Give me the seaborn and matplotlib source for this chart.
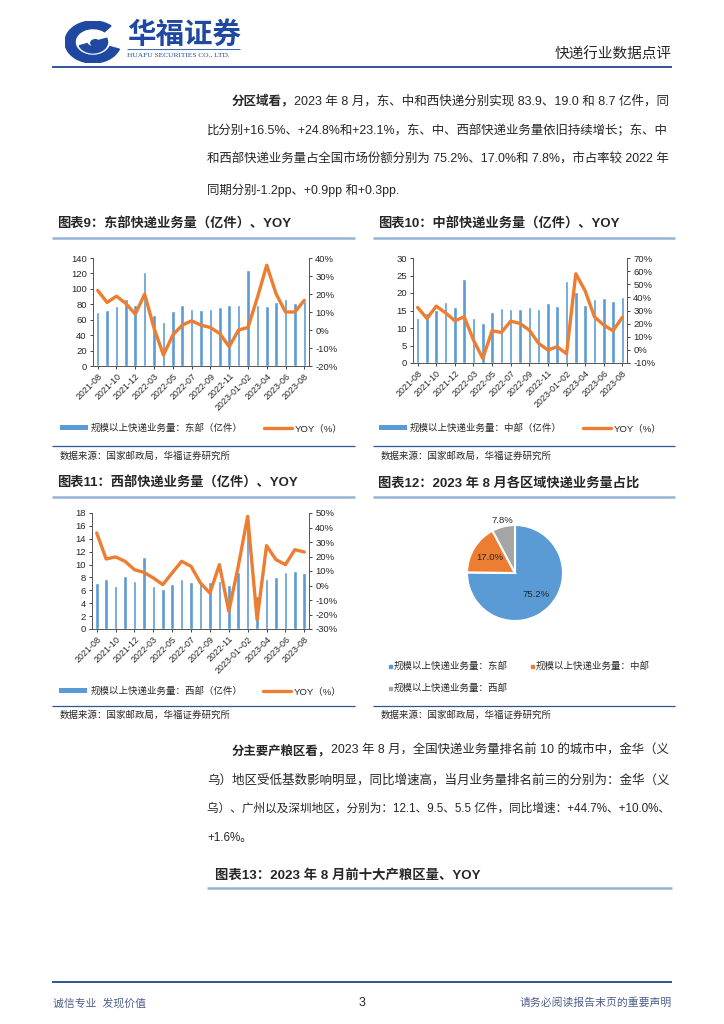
import matplotlib
matplotlib.use("Agg")
import matplotlib.pyplot as plt
import numpy as np
import seaborn as sns
from matplotlib.patches import Wedge, Circle, Rectangle, Patch
from matplotlib.lines import Line2D
from matplotlib.ticker import FuncFormatter

W, H = 724, 1024

MONTHS = ["2021-08", "2021-09", "2021-10", "2021-11", "2021-12", "2022-01~02",
          "2022-03", "2022-04", "2022-05", "2022-06", "2022-07", "2022-08",
          "2022-09", "2022-10", "2022-11", "2022-12", "2023-01~02", "2023-03",
          "2023-04", "2023-05", "2023-06", "2023-07", "2023-08"]

EAST_VOL = [70.2, 72.4, 78.0, 87.4, 78.8, 121.5, 65.9, 57.3, 71.0, 79.0, 73.7, 72.0,
            73.7, 76.0, 79.7, 78.8, 124.0, 79.7, 77.5, 83.0, 87.0, 81.4, 83.9]
EAST_YOY = [22.0, 15.3, 18.8, 14.7, 8.8, 19.9, 1.0, -13.9, -2.8, 2.7, 5.1, 2.7,
            1.4, -2.0, -9.3, 0.0, 1.4, 18.0, 36.0, 20.0, 10.0, 10.0, 16.5]

CENTRAL_VOL = [12.8, 14.2, 15.2, 17.4, 15.9, 23.9, 13.0, 11.4, 14.5, 15.7, 15.4, 15.3,
               15.9, 15.4, 17.1, 16.3, 23.4, 20.2, 16.5, 18.3, 18.7, 17.6, 19.0]
CENTRAL_YOY = [32.3, 23.9, 33.3, 28.2, 22.2, 25.2, 7.5, -6.5, 14.6, 13.3, 21.9, 20.1,
               15.0, 5.0, -0.1, 2.4, -3.0, 58.0, 45.0, 25.2, 18.9, 14.6, 24.8]

WEST_VOL = [7.2, 7.8, 6.6, 8.3, 7.5, 11.2, 6.6, 6.2, 7.0, 7.8, 7.3, 7.0,
            7.3, 7.5, 6.8, 8.8, 16.4, 5.1, 7.8, 8.1, 8.9, 9.0, 8.7]
WEST_YOY = [36.2, 18.3, 19.7, 16.7, 10.9, 9.1, 5.2, 0.6, 8.7, 16.7, 13.2, 1.7,
            -5.2, 14.4, -17.8, 13.2, 47.7, -23.6, 27.5, 17.8, 14.4, 24.7, 23.1]

SHARE_LABELS = ["规模以上快递业务量：东部", "规模以上快递业务量：中部", "规模以上快递业务量：西部"]
SHARE_VALUES = [75.2, 17.0, 7.8]

BLUE = "#5B9BD5"
ORANGE = "#ED7D31"
GRAY = "#A5A5A5"
NAVY = "#2E5597"
LOGO = "#1F49A0"
TITLE_LINE = "#95B3D7"

sns.set_theme(style="white")
plt.rcParams["font.family"] = ["Liberation Sans", "Noto Sans CJK SC", "DejaVu Sans"]
plt.rcParams["axes.unicode_minus"] = False

fig = plt.figure(figsize=(W / 100, H / 100), dpi=100)
renderer = fig.canvas.get_renderer()

# full page canvas in pixel coordinates
page = fig.add_axes([0, 0, 1, 1])
page.set_xlim(0, W)
page.set_ylim(H, 0)
page.axis("off")


def hline(y, x0, x1, color, lw):
    page.plot([x0, x1], [y, y], color=color, lw=lw, solid_capstyle="butt")


def width_of(t):
    return t.get_window_extent(renderer=renderer).width


def para_line(x0, x1, y, rest, bold=None, size=10.5, fit=True):
    """draw one body line, shrink it so it ends at x1 (text is justified in the source)"""
    parts = []
    if bold:
        parts.append(page.text(x0, y, bold, fontsize=size, weight="bold", va="center"))
    parts.append(page.text(x0, y, rest, fontsize=size, va="center"))
    total = sum(width_of(t) for t in parts)
    scale = min(1.0, (x1 - x0) / total) if fit else 1.0
    x = x0
    for t in parts:
        t.set_fontsize(size * scale)
        t.set_x(x)
        x += width_of(t)
    return size * scale


# ---- header ----
lax = fig.add_axes([65 / W, 1 - 63 / H, 56 / W, 42 / H])
lax.set_xlim(-1, 1)
lax.set_ylim(-1, 1)
lax.axis("off")
lax.add_patch(Wedge((0, 0), 1.0, 50, 340, width=0.36, color=LOGO))
lax.add_patch(Wedge((0, 0), 0.52, 200, 20, width=0.3, color=LOGO))
lax.add_patch(Circle((0.08, -0.05), 0.16, color=LOGO))
page.text(127, 35, "华福证券", fontsize=20.5, weight="bold", color=LOGO, va="center",
          family=["Noto Sans CJK SC"])
hline(49, 127, 240, LOGO, 0.6)
page.text(127, 55, "HUAFU SECURITIES CO., LTD.", fontsize=5.4, color=LOGO, va="center",
          family=["Liberation Serif"])
page.text(672, 55, "快递行业数据点评", fontsize=10.5, va="center", ha="right")
hline(67, 52, 672, NAVY, 1.4)

# ---- paragraph 1 ----
s = para_line(232, 672, 101, "2023 年 8 月，东、中和西快递分别实现 83.9、19.0 和 8.7 亿件，同", bold="分区域看，")
s = min(s, para_line(207, 672, 131, "比分别+16.5%、+24.8%和+23.1%，东、中、西部快递业务量依旧持续增长；东、中"))
s = min(s, para_line(207, 672, 160, "和西部快递业务量占全国市场份额分别为 75.2%、17.0%和 7.8%，市占率较 2022 年"))
para_line(207, 672, 190, "同期分别-1.2pp、+0.9pp 和+0.3pp.", size=s, fit=False)

# ---- chart titles and frames ----
for x0, x1, y_title, y_line, title in [
    (52, 355, 224, 238, "图表9：东部快递业务量（亿件）、YOY"),
    (373, 675, 224, 238, "图表10：中部快递业务量（亿件）、YOY"),
    (52, 355, 483, 497, "图表11：西部快递业务量（亿件）、YOY"),
    (373, 675, 483, 497, "图表12：2023 年 8 月各区域快递业务量占比"),
]:
    page.text(x0 + 5, y_title, title, fontsize=9.5, weight="bold", va="center")
    hline(y_line, x0, x1, TITLE_LINE, 1.8)

for x0, x1, y_line, y_src in [(52, 355, 446, 456), (373, 675, 446, 456),
                              (52, 355, 706, 715), (373, 675, 706, 715)]:
    hline(y_line, x0, x1, NAVY, 0.9)
    page.text(x0 + 8, y_src, "数据来源：国家邮政局，华福证券研究所", fontsize=6.8, va="center")


def combo_chart(rect, vol, yoy, vmax, vstep, ylo, yhi, legend_name, legend_y):
    ax = fig.add_axes(rect)
    x = np.arange(len(MONTHS))
    sns.barplot(x=MONTHS, y=vol, color=BLUE, width=0.38, saturation=1, ax=ax)
    ax.set_ylim(0, vmax)
    ax.set_yticks(np.arange(0, vmax + 0.1, vstep))
    ax.set_xlim(-0.5, len(MONTHS) - 0.5)
    ax.set_xticks(x[::2])
    ax.set_xticklabels(MONTHS[::2], rotation=45, ha="right", rotation_mode="anchor", fontsize=6.4)
    ax.tick_params(axis="y", labelsize=6.8, length=2.5, width=0.6, pad=2, left=True)
    ax.tick_params(axis="x", length=2.5, width=0.6, pad=1.5, bottom=True)
    ax.set_xlabel("")
    ax.set_ylabel("")

    ax2 = ax.twinx()
    sns.lineplot(x=x, y=yoy, color=ORANGE, lw=2.4, sort=False, ax=ax2)
    ax2.set_ylim(ylo, yhi)
    ax2.set_yticks(np.arange(ylo, yhi + 0.1, 10))
    ax2.yaxis.set_major_formatter(FuncFormatter(lambda v, p: f"{v:.0f}%"))
    ax2.tick_params(axis="y", labelsize=6.8, length=2.5, width=0.6, pad=2, right=True)
    ax2.set_ylabel("")
    ax2.grid(False)
    ax.grid(False)
    for a in (ax, ax2):
        a.spines["top"].set_visible(False)
        for side in ("left", "right", "bottom"):
            a.spines[side].set_color("#595959")
            a.spines[side].set_linewidth(0.7)

    cx = rect[0] + rect[2] / 2
    handles = [Patch(facecolor=BLUE, edgecolor="none"),
               Line2D([0], [0], color=ORANGE, lw=2.4)]
    fig.legend(handles, [legend_name, "YOY（%）"], loc="center", ncol=2,
               bbox_to_anchor=(cx, 1 - legend_y / H), frameon=False, fontsize=6.8,
               handlelength=3.0, handleheight=0.45, columnspacing=2.2, handletextpad=0.3)
    return ax


combo_chart([93 / W, 1 - 366 / H, 216 / W, 108 / H], EAST_VOL, EAST_YOY, 140, 20, -20, 40,
            "规模以上快递业务量：东部（亿件）", 428)
combo_chart([413 / W, 1 - 363 / H, 214 / W, 105 / H], CENTRAL_VOL, CENTRAL_YOY, 30, 5, -10, 70,
            "规模以上快递业务量：中部（亿件）", 428)
combo_chart([92 / W, 1 - 629 / H, 217 / W, 116 / H], WEST_VOL, WEST_YOY, 18, 2, -30, 50,
            "规模以上快递业务量：西部（亿件）", 691)

# ---- pie ----
pax = fig.add_axes([(515 - 60) / W, 1 - (573 + 60) / H, 120 / W, 120 / H])
wedges, texts, autotexts = pax.pie(
    SHARE_VALUES, colors=[BLUE, ORANGE, GRAY], startangle=90, counterclock=False,
    radius=0.8, autopct="%.1f%%", pctdistance=0.62,
    wedgeprops=dict(edgecolor="white", linewidth=1.5),
    textprops=dict(fontsize=6.8, color="#262626"))
autotexts[2].set_position(np.array(autotexts[2].get_position()) / 0.62 * 1.12)
pax.set_xlim(-1, 1)
pax.set_ylim(-1, 1)
pax.set_aspect("equal")

for (mx, my), label, color in zip([(390, 666), (532, 666), (390, 688)], SHARE_LABELS,
                                  [BLUE, ORANGE, GRAY]):
    page.add_patch(Rectangle((mx - 1.5, my - 1.5), 3, 3, color=color))
    page.text(mx + 4, my, label, fontsize=6.8, va="center")

# ---- paragraph 2 ----
s = para_line(232, 672, 751, "2023 年 8 月，全国快递业务量排名前 10 的城市中，金华（义", bold="分主要产粮区看，")
s = min(s, para_line(207, 672, 780, "乌）地区受低基数影响明显，同比增速高，当月业务量排名前三的分别为：金华（义"))
s = min(s, para_line(207, 672, 809, "乌）、广州以及深圳地区，分别为：12.1、9.5、5.5 亿件，同比增速：+44.7%、+10.0%、"))
para_line(207, 672, 838, "+1.6%。", size=s, fit=False)

page.text(215, 875, "图表13：2023 年 8 月前十大产粮区量、YOY", fontsize=9.6, weight="bold", va="center")
hline(888, 207, 672, TITLE_LINE, 1.8)

# ---- footer ----
hline(982, 52, 672, NAVY, 1.4)
page.text(53, 1003, "诚信专业  发现价值", fontsize=7.8, color="#4F5F8A", va="center")
page.text(362, 1003, "3", fontsize=9, va="center", ha="center")
page.text(672, 1003, "请务必阅读报告末页的重要声明", fontsize=7.8, color="#4F5F8A", va="center", ha="right")

fig.savefig("out.png", dpi=100)
